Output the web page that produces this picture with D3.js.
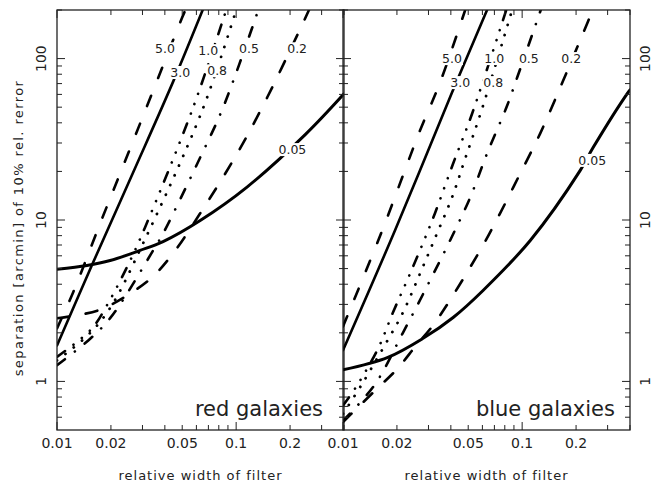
<!DOCTYPE html>
<html lang="en">
<head>
<meta charset="UTF-8">
<title>separation vs filter width</title>
<script src="https://cdn.jsdelivr.net/npm/d3@7"></script>
<style>
  body { margin: 0; background: #fff; }
  text { font-family: "DejaVu Sans", sans-serif; fill: #222; }
</style>
</head>
<body>
<script>
// names written on the curves
const curveNames = ["5.0", "3.0", "1.0", "0.8", "0.5", "0.2", "0.05"];

// red galaxies: [relative width of filter, separation in arcmin]
const red50 = [[0.01, 2.13], [0.0123, 3.56], [0.0174, 9.5], [0.0291, 39.6], [0.0499, 179], [0.0521, 200]];
const red30 = [[0.01, 1.67], [0.0159, 5.45], [0.0266, 19.7], [0.0445, 72], [0.0655, 204]];
const red10 = [[0.01, 1.42], [0.0155, 2.1], [0.019, 2.96], [0.0256, 5.6], [0.031, 9.0], [0.0575, 49.7], [0.088, 200]];
const red08 = [[0.01, 1.35], [0.015, 1.95], [0.02, 2.9], [0.0302, 7.15], [0.0646, 47.6], [0.1, 200]];
const red05 = [[0.01, 1.26], [0.015, 1.8], [0.02, 2.5], [0.0352, 6.76], [0.0391, 8.25], [0.063, 24.4], [0.0845, 49.7], [0.133, 200]];
const red02 = [[0.01, 2.46], [0.0169, 2.75], [0.0246, 3.41], [0.0339, 4.41], [0.0444, 6.2], [0.063, 11.0], [0.1013, 25.8], [0.149, 57.4], [0.2366, 167], [0.255, 200]];
const red005 = [[0.01, 4.95], [0.0147, 5.23], [0.0198, 5.61], [0.0291, 6.48], [0.0391, 7.35], [0.063, 9.93], [0.115, 16.0], [0.243, 33.8], [0.4, 60.5]];
const redLabelX = [0.0401, 0.0487, 0.0698, 0.0783, 0.118, 0.219, 0.206];
const redLabelY = [115, 82, 112, 84, 115, 115, 27.3];

// blue galaxies
const blue50 = [[0.01, 2.19], [0.0163, 8.25], [0.0269, 35.8], [0.0348, 71], [0.0481, 200]];
const blue30 = [[0.01, 1.56], [0.0195, 8.61], [0.0406, 61.6], [0.0637, 200]];
const blue10 = [[0.01, 0.71], [0.0118, 0.92], [0.0157, 1.6], [0.019, 2.67], [0.0237, 4.66], [0.0291, 8.02], [0.0327, 11.1], [0.0412, 22.4], [0.0526, 45.7], [0.0815, 200]];
const blue08 = [[0.01, 0.63], [0.0126, 0.94], [0.0167, 1.6], [0.0216, 2.67], [0.0269, 4.66], [0.0331, 8.02], [0.0406, 13.8], [0.0481, 24.0], [0.0598, 49], [0.0879, 200]];
const blue05 = [[0.01, 0.57], [0.015, 0.95], [0.0216, 2.0], [0.0306, 4.22], [0.0396, 7.47], [0.0513, 13.8], [0.0637, 25.8], [0.0825, 51.2], [0.0938, 76.3], [0.1227, 179], [0.127, 200]];
const blue02 = [[0.01, 0.56], [0.0153, 0.89], [0.02, 1.19], [0.0256, 1.67], [0.0327, 2.32], [0.0582, 6.47], [0.0753, 11.0], [0.0975, 19.4], [0.126, 34.3], [0.1695, 73.1], [0.2307, 165], [0.248, 200]];
const blue005 = [[0.01, 1.18], [0.0178, 1.41], [0.028, 1.85], [0.0412, 2.49], [0.0605, 3.66], [0.111, 7.47], [0.211, 20.3], [0.249, 28.1], [0.386, 60.7], [0.4, 64]];
const blueLabelX = [0.0406, 0.0451, 0.0698, 0.0689, 0.109, 0.188, 0.246];
const blueLabelY = [100, 71, 100, 71, 100, 100, 23.4];

const xTickLabels = [0.01, 0.02, 0.05, 0.1, 0.2];
const xTicks = [0.01, 0.02, 0.03, 0.04, 0.05, 0.06, 0.07, 0.08, 0.09, 0.1, 0.2, 0.3, 0.4];
const yTickLabels = [1, 10, 100];
const yTicks = [0.6, 0.7, 0.8, 0.9, 1, 2, 3, 4, 5, 6, 7, 8, 9, 10, 20, 30, 40, 50, 60, 70, 80, 90, 100, 200];

// line look for each curve, same order as curveNames
const dashes = ["11,19", null, "10,10.5,0.1,10.5,0.1,10.5,0.1,10.5", "0.1,10.5", "10,12.5,0.1,12.5", "12,17", null];
const widths = [2.6, 2.6, 2.6, 2.8, 2.6, 2.6, 3];

const W = 668, H = 485;
const plotTop = 10, plotBot = 430;

const svg = d3.select("body").append("svg")
    .attr("width", W)
    .attr("height", H);

const y = d3.scaleLog().domain([0.5, 200]).range([plotBot, plotTop]);

const panels = [
    {name: "red galaxies", curves: [red50, red30, red10, red08, red05, red02, red005], lx: redLabelX, ly: redLabelY, x0: 57, x1: 344, yLabels: "left"},
    {name: "blue galaxies", curves: [blue50, blue30, blue10, blue08, blue05, blue02, blue005], lx: blueLabelX, ly: blueLabelY, x0: 343, x1: 630, yLabels: "right"}
];

panels.forEach(function (p, pi) {
    const x = d3.scaleLog().domain([0.01, 0.4]).range([p.x0, p.x1]);
    const g = svg.append("g");

    g.append("clipPath").attr("id", "clip" + pi)
        .append("rect")
        .attr("x", p.x0).attr("y", plotTop)
        .attr("width", p.x1 - p.x0).attr("height", plotBot - plotTop);

    const line = d3.line()
        .x(d => x(d[0]))
        .y(d => y(d[1]))
        .curve(d3.curveCatmullRom.alpha(0.5));

    g.append("g").attr("clip-path", "url(#clip" + pi + ")")
        .selectAll("path")
        .data(p.curves)
        .enter()
        .append("path")
        .attr("d", line)
        .attr("fill", "none")
        .attr("stroke", "#000")
        .attr("stroke-width", (d, i) => widths[i])
        .attr("stroke-linecap", "round")
        .attr("stroke-dasharray", (d, i) => dashes[i]);

    // curve labels on a white patch so they cut the line
    const lab = g.selectAll("g.lab")
        .data(curveNames)
        .enter()
        .append("g")
        .attr("class", "lab")
        .attr("transform", (d, i) => "translate(" + x(p.lx[i]) + "," + y(p.ly[i]) + ")");
    lab.append("text")
        .attr("text-anchor", "middle")
        .attr("dy", "0.36em")
        .style("font-size", "12.5px")
        .text(d => d);
    lab.each(function () {
        const t = d3.select(this).select("text");
        const b = t.node().getBBox();
        d3.select(this).insert("rect", "text")
            .attr("x", b.x - 1).attr("y", b.y + 1)
            .attr("width", b.width + 2).attr("height", b.height - 2)
            .attr("fill", "#fff");
    });

    // frame
    g.append("rect")
        .attr("x", p.x0).attr("y", plotTop)
        .attr("width", p.x1 - p.x0).attr("height", plotBot - plotTop)
        .attr("fill", "none")
        .attr("stroke", "#222")
        .attr("stroke-width", 1.3);

    // x ticks, bottom and top, pointing inward
    const isMajorX = v => v === 0.01 || v === 0.1;
    g.selectAll("line.xb").data(xTicks).enter().append("line")
        .attr("x1", d => x(d)).attr("x2", d => x(d))
        .attr("y1", plotBot).attr("y2", d => plotBot - (isMajorX(d) ? 8 : 5))
        .attr("stroke", "#222");
    g.selectAll("line.xt").data(xTicks).enter().append("line")
        .attr("x1", d => x(d)).attr("x2", d => x(d))
        .attr("y1", plotTop).attr("y2", d => plotTop + (isMajorX(d) ? 8 : 5))
        .attr("stroke", "#222");

    // y ticks on both sides
    const isMajorY = v => v === 1 || v === 10 || v === 100;
    g.selectAll("line.yl").data(yTicks).enter().append("line")
        .attr("x1", p.x0).attr("x2", d => p.x0 + (isMajorY(d) ? 8 : 5))
        .attr("y1", d => y(d)).attr("y2", d => y(d))
        .attr("stroke", "#222");
    g.selectAll("line.yr").data(yTicks).enter().append("line")
        .attr("x1", p.x1).attr("x2", d => p.x1 - (isMajorY(d) ? 8 : 5))
        .attr("y1", d => y(d)).attr("y2", d => y(d))
        .attr("stroke", "#222");

    g.selectAll("text.xl").data(xTickLabels).enter().append("text")
        .attr("x", d => x(d)).attr("y", 448)
        .attr("text-anchor", "middle")
        .style("font-size", "14px")
        .text(d => d);

    const ylx = p.yLabels === "left" ? p.x0 - 11 : p.x1 + 20;
    g.selectAll("text.yl").data(yTickLabels).enter().append("text")
        .attr("transform", d => "translate(" + ylx + "," + y(d) + ") rotate(-90)")
        .attr("text-anchor", "middle")
        .style("font-size", "14px")
        .text(d => d);

    g.append("text")
        .attr("x", (p.x0 + p.x1) / 2).attr("y", 480)
        .attr("text-anchor", "middle")
        .style("font-size", "13px")
        .style("letter-spacing", "1px")
        .text("relative width of filter");

    g.append("text")
        .attr("x", p.x1 - (pi === 0 ? 21 : 15)).attr("y", 416)
        .attr("text-anchor", "end")
        .style("font-size", "21px")
        .text(p.name);
});

svg.append("text")
    .attr("transform", "translate(23,228) rotate(-90)")
    .attr("text-anchor", "middle")
    .style("font-size", "13px")
    .style("letter-spacing", "1.4px")
    .text("separation [arcmin] of 10% rel. rerror");
</script>
</body>
</html>
